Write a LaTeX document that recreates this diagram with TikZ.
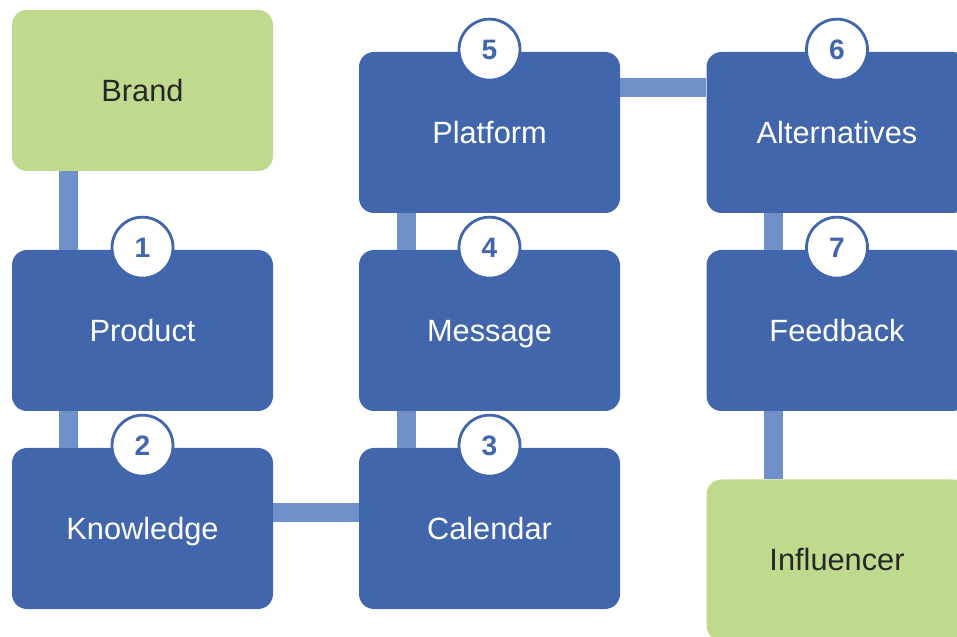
\documentclass[tikz,border=0pt]{standalone}
\usepackage{fontspec}
\setmainfont{Liberation Sans}
\usepackage{tikz}

\definecolor{boxblue}{HTML}{4266AC}
\definecolor{linkblue}{HTML}{7090CA}
\definecolor{boxgreen}{HTML}{BFDA8D}

\tikzset{
  stage/.style={rectangle, rounded corners=0.3cm, fill=boxblue, text=white,
    minimum width=5.22cm, minimum height=3.22cm, text height=14.2pt, text depth=1.8pt,
    font=\fontsize{17.5}{20}\selectfont},
  goal/.style={stage, fill=boxgreen, text=black!85},
  num/.style={circle, draw=boxblue, line width=1.6pt, fill=white, text=boxblue,
    minimum size=1.22cm, inner sep=0pt, font=\fontsize{16}{18}\selectfont\bfseries},
  link/.style={linkblue, line width=0.38cm}
}

\begin{document}
\begin{tikzpicture}
  \useasboundingbox (0,0) rectangle (19.14,-12.74);

  % Draw the boxes
  \node[goal]  (brand)        at (2.85,-1.81)  {Brand};
  \node[stage] (product)      at (2.85,-6.61)  {Product};
  \node[stage] (knowledge)    at (2.85,-10.57) {Knowledge};
  \node[stage] (calendar)     at (9.79,-10.57) {Calendar};
  \node[stage] (message)      at (9.79,-6.61)  {Message};
  \node[stage] (platform)     at (9.79,-2.65)  {Platform};
  \node[stage] (alternatives) at (16.74,-2.65) {Alternatives};
  \node[stage] (feedback)     at (16.74,-6.61) {Feedback};
  \node[goal]  (influencer)   at (16.74,-11.2) {Influencer};

  % Draw the links between the boxes
  \draw[link] ([xshift=1.14cm]brand.south west) -- ([xshift=1.14cm]product.north west);
  \draw[link] ([xshift=1.14cm]product.south west) -- ([xshift=1.14cm]knowledge.north west);
  \draw[link] ([yshift=-1.3cm]knowledge.north east) -- ([yshift=-1.3cm]calendar.north west);
  \draw[link] ([xshift=0.96cm]calendar.north west) -- ([xshift=0.96cm]message.south west);
  \draw[link] ([xshift=0.96cm]message.north west) -- ([xshift=0.96cm]platform.south west);
  \draw[link] ([yshift=-0.72cm]platform.north east) -- ([yshift=-0.72cm]alternatives.north west);
  \draw[link] ([xshift=1.34cm]alternatives.south west) -- ([xshift=1.34cm]feedback.north west);
  \draw[link] ([xshift=1.34cm]feedback.south west) -- ([xshift=1.34cm]influencer.north west);

  % Draw the step numbers
  \node[num] (n1) at ([yshift=0.04cm]product.north)      {1};
  \node[num] (n2) at ([yshift=0.04cm]knowledge.north)    {2};
  \node[num] (n3) at ([yshift=0.04cm]calendar.north)     {3};
  \node[num] (n4) at ([yshift=0.04cm]message.north)      {4};
  \node[num] (n5) at ([yshift=0.04cm]platform.north)     {5};
  \node[num] (n6) at ([yshift=0.04cm]alternatives.north) {6};
  \node[num] (n7) at ([yshift=0.04cm]feedback.north)     {7};
\end{tikzpicture}
\end{document}
